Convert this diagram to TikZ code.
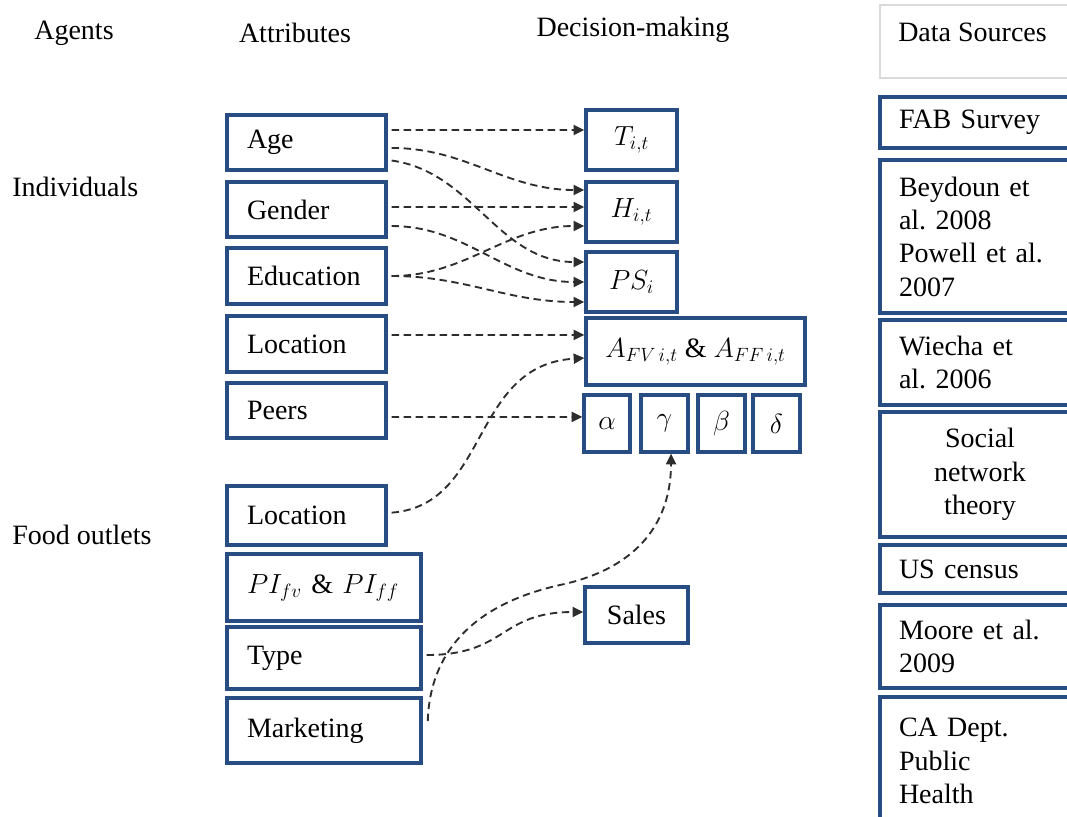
\documentclass[tikz,border=0pt]{standalone}
\usepackage{fontspec}
\setmainfont{Liberation Serif}
\usetikzlibrary{arrows.meta}
\definecolor{boxblue}{RGB}{40,77,130}
\definecolor{linkgray}{RGB}{45,45,45}
\definecolor{framegray}{RGB}{218,218,218}
\frenchspacing
\begin{document}
\begin{tikzpicture}[x=0.75pt,y=-0.75pt,
  every node/.style={font=\fontsize{21}{25}\selectfont},
  heading/.style={inner sep=0pt},
  frame/.style={draw=boxblue, line width=2.5pt, fill=white, inner ysep=0pt},
  attr/.style={frame, inner xsep=15pt, text width=89.25pt, align=left, minimum height=#1},
  outlet/.style={frame, inner xsep=15pt, text width=115.5pt, align=left, minimum height=#1},
  decision/.style 2 args={frame, inner xsep=0pt, minimum width=#1, minimum height=#2, align=center},
  source/.style={frame, inner xsep=14.25pt, text width=121.5pt, align=left, minimum height=#1},
  link/.style={draw=linkgray, line width=1.4pt, dash pattern=on 5.5pt off 3.5pt,
    -{Triangle[length=8pt,width=7.5pt]}, shorten <=3pt}
]
\useasboundingbox (0,0) rectangle (1067,817);
\clip (0,0) rectangle (1067,817);

% column headings
\node[heading] (agents) at (74,33) {Agents};
\node[heading] (attributes) at (295,33) {Attributes};
\node[heading] (decisions) at (633,30) {Decision-making};
\node[heading, anchor=west] (individuals) at (12,187) {Individuals};
\node[heading, anchor=west] (outlets) at (12,535) {Food outlets};

% individual attributes
\node[attr=41.25pt] (age)    at (306.5,142.5) {Age};
\node[attr=41.25pt] (gender) at (306.5,209.5) {Gender};
\node[attr=42pt]    (edu)    at (306.5,276)   {Education};
\node[attr=42pt]    (loci)   at (306.5,344)   {Location};
\node[attr=41.25pt] (peers)  at (306.5,410.5) {Peers};

% food outlet attributes
\node[attr=44.25pt]   (locf) at (306.5,515.5) {Location};
\node[outlet=50.25pt] (pi)   at (324,587.5)   {$PI_{fv}$ \& $PI_{ff}$};
\node[outlet=46.5pt]  (type) at (324,658)     {Type};
\node[outlet=48.75pt] (mkt)  at (324,730.5)   {Marketing};

% decision-making variables
\node[decision={68.25pt}{45pt}]     (T)     at (631.5,140)   {$T_{i,t}$};
\node[decision={68.25pt}{45pt}]     (H)     at (631.5,212)   {$H_{i,t}$};
\node[decision={68.25pt}{45pt}]     (PS)    at (631.5,282)   {$PS_i$};
\node[decision={164.25pt}{50.25pt}] (A)     at (695.5,351.5) {$A_{FV\,i,t}$ \& $A_{FF\,i,t}$};
\node[decision={34.5pt}{42.75pt}]   (alpha) at (607,423.5)   {$\alpha$};
\node[decision={35.25pt}{42.75pt}]  (gamma) at (664.5,423.5) {$\gamma$};
\node[decision={35.25pt}{42.75pt}]  (beta)  at (721.5,423.5) {$\beta$};
\node[decision={35.25pt}{42.75pt}]  (delta) at (776.5,423.5) {$\delta$};
\node[decision={77.25pt}{42pt}]     (sales) at (636.5,615)   {Sales};

% data sources
\node[draw=framegray, line width=0.8pt, minimum width=150pt, minimum height=54.75pt] (dsframe) at (980,41.5) {};
\node[heading, anchor=west] (dstitle) at (898,32) {Data Sources};
\node[source=38.25pt]  (fab) at (980,122.5) {FAB Survey};
\node[source=114.75pt] (bey) at (980,236.5) {Beydoun et\\al. 2008\\Powell et al.\\2007};
\node[source=63.75pt]  (wie) at (980,362.5) {Wiecha et\\al. 2006};
\node[source=93.75pt, align=center] (soc) at (980,474.5) {Social\\network\\theory};
\node[source=36pt]     (usc) at (980,569)   {US census};
\node[source=62.25pt]  (moo) at (980,646.5) {Moore et al.\\2009};
\node[source=96pt]     (cad) at (980,761)   {CA Dept.\\Public\\Health};

% influences
\draw[link] ([yshift=9.4pt]age.east) -- ([yshift=7.5pt]T.west);
\draw[link] ([yshift=-4.1pt]age.east) to[out=0,in=180] ([yshift=16.5pt]H.west);
\draw[link] ([yshift=-13.1pt]age.east) to[out=-8,in=180] ([yshift=15pt]PS.west);
\draw[link] ([yshift=1.9pt]gender.east) -- ([yshift=3.75pt]H.west);
\draw[link] ([yshift=-12.4pt]gender.east) to[out=0,in=180] (PS.west);
\draw[link] (edu.east) to[out=0,in=180] ([yshift=-10.5pt]H.west);
\draw[link] (edu.east) to[out=0,in=180] ([yshift=-15pt]PS.west);
\draw[link] ([yshift=6.75pt]loci.east) -- ([yshift=12.4pt]A.west);
\draw[link] ([yshift=-4.9pt]peers.east) -- ([yshift=4.9pt]alpha.west);
\draw[link] ([yshift=1.9pt]locf.east) .. controls (490,505) and (470,365) .. ([yshift=-4.9pt]A.west);
\draw[link] ([yshift=2.25pt]type.east) to[out=0,in=180,looseness=1.3] ([yshift=2.25pt]sales.west);
\draw[link] ([xshift=3.75pt,yshift=4.1pt]mkt.east) .. controls +(2,-70) and (470,605) .. (560,585)
  .. controls (640,568) and (671,520) .. ([xshift=4.9pt]gamma.south);
\end{tikzpicture}
\end{document}
